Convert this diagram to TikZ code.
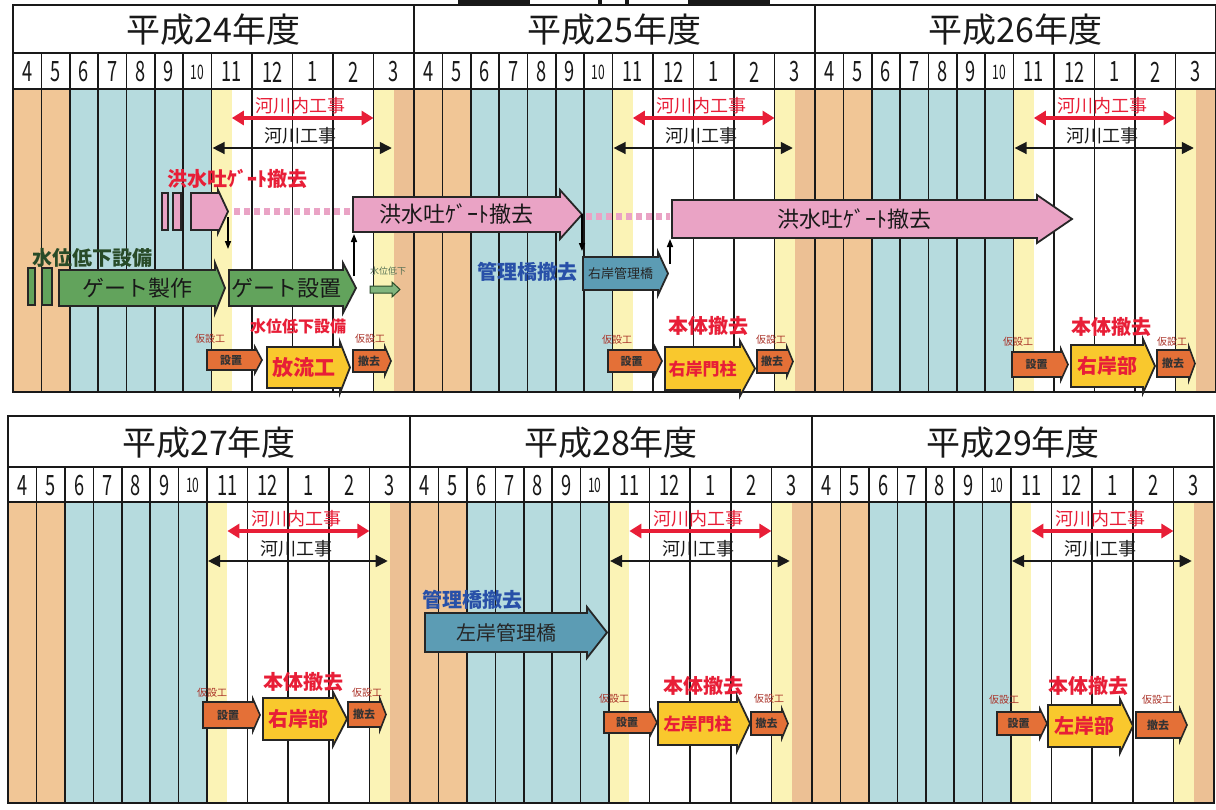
\documentclass[tikz,border=0pt]{standalone}
\usepackage{fontspec}
\setmainfont{Noto Sans CJK JP}
\usepackage{graphicx}
\usetikzlibrary{arrows.meta}
\definecolor{cOr}{RGB}{241,198,150}
\definecolor{cOr2}{RGB}{236,192,148}
\definecolor{cBl}{RGB}{182,219,222}
\definecolor{cYe}{RGB}{251,243,182}
\definecolor{cPink}{RGB}{234,163,197}
\definecolor{cGreen}{RGB}{98,163,92}
\definecolor{cTeal}{RGB}{92,156,180}
\definecolor{cYarr}{RGB}{249,200,45}
\definecolor{cOarr}{RGB}{228,112,55}
\definecolor{cRed}{RGB}{232,30,55}
\definecolor{cBlue}{RGB}{40,80,168}
\definecolor{cDG}{RGB}{40,75,40}
\definecolor{cBrown}{RGB}{170,50,40}
\newcommand\fsz[1]{\fontsize{#1}{#1}\selectfont}
\tikzset{
 bline/.style={line width=2.2pt, draw=black!90},
 vline/.style={line width=1.6pt, draw=black!90},
 titlelbl/.style={font=\fsz{34}, inner sep=0pt, text=black!90},
 monthlbl/.style={font=\fsz{28}, inner sep=0pt, text=black!90},
 redlbl/.style={font=\fsz{18}, text=cRed, inner sep=0pt},
 blklbl/.style={font=\fsz{18}, text=black!90, inner sep=0pt},
 redarr/.style={line width=4pt, draw=cRed, arrows={Triangle[length=12pt,width=14pt]-Triangle[length=12pt,width=14pt]}},
 blkarr/.style={line width=1.5pt, draw=black!90, arrows={Triangle[length=12pt,width=12pt]-Triangle[length=12pt,width=12pt]}},
 pinkA/.style={draw=black!85, line width=1.8pt, fill=cPink},
 pinkA txt/.style={inner sep=0pt, text=black!90},
 greenA/.style={draw=black!85, line width=1.8pt, fill=cGreen},
 greenA txt/.style={inner sep=0pt, text=black!90},
 greenB/.style={draw=cDG, line width=1pt, fill=cGreen!80},
 greenB txt/.style={inner sep=0pt},
 tealA/.style={draw=black!85, line width=1.8pt, fill=cTeal},
 tealA txt/.style={inner sep=0pt, text=black!85},
 yellowA/.style={draw=black!85, line width=1.8pt, fill=cYarr},
 yellowA txt/.style={inner sep=0pt, text=cRed, font=\bfseries},
 orangeA/.style={draw=black!85, line width=1.6pt, fill=cOarr},
 orangeA txt/.style={inner sep=0pt, text=black!80, font=\bfseries},
 kasetsu/.style={font=\fsz{10}, text=cBrown, inner sep=0pt},
 redbold/.style={font=\bfseries, text=cRed, inner sep=0pt},
 bluelbl/.style={font=\fsz{20}\bfseries, text=cBlue, inner sep=0pt},
 greenlbl/.style={font=\fsz{20}\bfseries, text=cDG, inner sep=0pt},
 pinklbl/.style={font=\fsz{20}\bfseries, text=cRed, inner sep=0pt},
 tinygreen/.style={font=\fsz{9}, text=cDG!80, inner sep=0pt},
 pinkdot/.style={line width=7pt, draw=cPink, dash pattern=on 6pt off 4pt},
 vlink/.style={line width=1.5pt, draw=black, arrows={-Triangle[length=8pt,width=6pt]}},
 breakbar/.style={draw=black!85, line width=1.5pt},
}
% #1 name, #2 xstart, #3 xtip, #4 ytop, #5 ybot, #6 head length, #7 flare, #8 style, #9 text
\newcommand\blockarrow[9]{%
 \draw[#8] (#2,#4) -- ({#3-#6},#4) -- ({#3-#6},{#4-#7}) -- (#3,{(#4+#5)/2}) -- ({#3-#6},{#5+#7}) -- ({#3-#6},#5) -- (#2,#5) -- cycle;
 \node[#8 txt] (#1) at ({(#2+#3-#6)/2},{(#4+#5)/2}) {#9};
}
% #1 x0, #2 W, #3 ytop, #4 ytitle, #5 ymonth, #6 ybot, #7 title, #8 name
\newcommand\yearpanel[8]{%
 \pgfmathsetmacro\Pn{28.3*#2/400}%
 \pgfmathsetmacro\Pw{(#2-7*\Pn)/5}%
 \pgfmathsetmacro\Xb{#1+2*\Pn}%
 \pgfmathsetmacro\Xc{#1+7*\Pn}%
 \pgfmathsetmacro\Xd{\Xc+\Pw/2}%
 \pgfmathsetmacro\Xe{\Xc+4*\Pw}%
 \pgfmathsetmacro\Xf{\Xc+4.5*\Pw}%
 \pgfmathsetmacro\Xg{#1+#2}%
 \pgfmathsetmacro\Xt{\Xc+2.2*\Pw}%
 \fill[white] (#1,#3) rectangle (\Xg,#5);
 \fill[cOr] (#1,#5) rectangle (\Xb,#6);
 \fill[cBl] (\Xb,#5) rectangle (\Xc,#6);
 \fill[cYe] (\Xc,#5) rectangle (\Xd,#6);
 \fill[white] (\Xd,#5) rectangle (\Xe,#6);
 \fill[cYe] (\Xe,#5) rectangle (\Xf,#6);
 \fill[cOr2] (\Xf,#5) rectangle (\Xg,#6);
 \foreach \m [count=\i from 0] in {4,5,6,7,8,9,10,11,12,1,2,3} {
   \pgfmathsetmacro\xl{(\i<8) ? #1+\i*\Pn : \Xc+(\i-7)*\Pw}
   \pgfmathsetmacro\xr{(\i<7) ? #1+(\i+1)*\Pn : \Xc+(\i-6)*\Pw}
   \ifnum\i>0 \draw[vline] (\xl,#4) -- (\xl,#6); \fi
   \node[monthlbl] (#8m\m) at ({(\xl+\xr)/2},{(#4+#5)/2+1}) {\ifnum\m=10 \fsz{20}\scalebox{0.6}[1]{10}\else\scalebox{0.65}[1]{\m}\fi};
 }
 \node[titlelbl] (#8t) at ({(#1+\Xg)/2},{(#3+#4)/2+1}) {#7};
 \draw[bline] (#1,#3) rectangle (\Xg,#6);
 \draw[bline] (#1,#4) -- (\Xg,#4);
 \draw[bline] (#1,#5) -- (\Xg,#5);
 \node[redlbl] (#8r) at (\Xt,{#5+17}) {河川内工事};
 \coordinate (#8ra) at (\Xd,{#5+29});
 \coordinate (#8rb) at (\Xe,{#5+29});
 \draw[redarr] (#8ra) -- (#8rb);
 \node[blklbl] (#8k) at (\Xt,{#5+47}) {河川工事};
 \coordinate (#8ka) at ({\Xc+1},{#5+59});
 \coordinate (#8kb) at ({\Xf-2},{#5+59});
 \draw[blkarr] (#8ka) -- (#8kb);
}
\begin{document}
\begin{tikzpicture}[x=1pt,y=-1pt]
\useasboundingbox (0,0) rectangle (1216,809);
\fill[white] (0,0) rectangle (1216,809);
% clipped main title fragments at the very top
\fill[black!90] (458,0) rectangle (530,5);
\fill[black!90] (598,0) rectangle (602,7);
\fill[black!90] (625,0) rectangle (629,7);
\fill[black!90] (688,0) rectangle (770,5);
% panels
\yearpanel{13}{401}{5}{53}{89}{392}{平成24年度}{pA}
\yearpanel{414}{401}{5}{53}{89}{392}{平成25年度}{pB}
\yearpanel{815}{401}{5}{53}{89}{392}{平成26年度}{pC}
\yearpanel{8}{402}{416}{467}{502}{803}{平成27年度}{pD}
\yearpanel{410}{402}{416}{467}{502}{803}{平成28年度}{pE}
\yearpanel{812}{402}{416}{467}{502}{803}{平成29年度}{pF}
% ---- panel 1 ----
\node[pinklbl] (gl1) at (237,179) {洪水吐ｹﾞｰﾄ撤去};
\draw[breakbar, fill=cPink] (162,193) rectangle (168,230);
\draw[breakbar, fill=cPink] (173,193) rectangle (181,230);
\blockarrow{pk1}{191}{228}{193}{230}{10}{3}{pinkA}{}
\coordinate (d1a) at (234,211);
\coordinate (d1b) at (352,211);
\draw[pinkdot] (d1a) -- (d1b);
\blockarrow{pk2}{353}{582}{197}{232}{22}{7}{pinkA}{\fsz{22}洪水吐ｹﾞｰﾄ撤去}
\coordinate (d2a) at (586,216);
\coordinate (d2b) at (670,216);
\draw[pinkdot] (d2a) -- (d2b);
\blockarrow{pk3}{672}{1072}{200}{238}{35}{5}{pinkA}{\fsz{22}洪水吐ｹﾞｰﾄ撤去}
\coordinate (v1a) at (228,217);
\coordinate (v1b) at (228,249);
\draw[vlink] (v1a) -- (v1b);
\coordinate (v2a) at (354,276);
\coordinate (v2b) at (354,234);
\draw[vlink] (v2a) -- (v2b);
\coordinate (v3a) at (582,214);
\coordinate (v3b) at (582,251);
\draw[vlink] (v3a) -- (v3b);
\coordinate (v4a) at (670,264);
\coordinate (v4b) at (670,239);
\draw[vlink] (v4a) -- (v4b);
\node[greenlbl] (wl1) at (92,258) {水位低下設備};
\draw[breakbar, fill=cGreen] (28,268) rectangle (35,305);
\draw[breakbar, fill=cGreen] (42,268) rectangle (52,305);
\blockarrow{g1}{59}{225}{270}{306}{10}{7}{greenA}{\fsz{22}ゲート製作}
\blockarrow{g2}{229}{356}{270}{306}{13}{7}{greenA}{\fsz{22}ゲート設置}
\node[tinygreen] (wl2) at (388,271) {水位低下};
\blockarrow{g3}{370}{400}{286}{293}{8}{4}{greenB}{}
\node[kasetsu] (ksAa) at (210,339) {仮設工};
\blockarrow{oAa}{207}{262}{350}{370}{7}{3}{orangeA}{\fsz{11}設置}
\node[redbold] (hrA) at (298,326) {\fsz{16}水位低下設備};
\blockarrow{yA}{267}{350}{347}{388}{10}{5}{yellowA}{\fsz{21}放流工}
\node[kasetsu] (ksAb) at (370,339) {仮設工};
\blockarrow{oAb}{353}{391}{350}{372}{6}{3}{orangeA}{\fsz{11}撤去}
% ---- panel 2 ----
\node[bluelbl] (kbB) at (527,272) {管理橋撤去};
\blockarrow{tB}{583}{668}{257}{290}{10}{5}{tealA}{\fsz{13}右岸管理橋}
\node[kasetsu] (ksBa) at (617,340) {仮設工};
\blockarrow{oBa}{608}{662}{350}{372}{7}{3}{orangeA}{\fsz{11}設置}
\node[redbold] (hrB) at (708,326) {\fsz{20}本体撤去};
\blockarrow{yB}{665}{755}{347}{390}{15}{6}{yellowA}{\fsz{17}右岸門柱}
\node[kasetsu] (ksBb) at (771,340) {仮設工};
\blockarrow{oBb}{757}{793}{350}{373}{6}{3}{orangeA}{\fsz{11}撤去}
% ---- panel 3 ----
\node[kasetsu] (ksCa) at (1018,342) {仮設工};
\blockarrow{oCa}{1012}{1068}{352}{377}{7}{3}{orangeA}{\fsz{11}設置}
\node[redbold] (hrC) at (1111,327) {\fsz{20}本体撤去};
\blockarrow{yC}{1071}{1155}{345}{387}{12}{6}{yellowA}{\fsz{20}右岸部}
\node[kasetsu] (ksCb) at (1172,342) {仮設工};
\blockarrow{oCb}{1157}{1195}{350}{377}{6}{3}{orangeA}{\fsz{11}撤去}
% ---- panel 4 ----
\node[kasetsu] (ksDa) at (212,693) {仮設工};
\blockarrow{oDa}{203}{260}{702}{728}{7}{3}{orangeA}{\fsz{11}設置}
\node[redbold] (hrD) at (303,682) {\fsz{20}本体撤去};
\blockarrow{yD}{263}{347}{698}{740}{14}{6}{yellowA}{\fsz{20}右岸部}
\node[kasetsu] (ksDb) at (367,693) {仮設工};
\blockarrow{oDb}{348}{386}{702}{727}{6}{3}{orangeA}{\fsz{11}撤去}
% ---- panel 5 ----
\node[bluelbl] (kbE) at (472,600) {管理橋撤去};
\blockarrow{tE}{425}{607}{613}{652}{20}{6}{tealA}{\fsz{20}左岸管理橋}
\node[kasetsu] (ksEa) at (614,699) {仮設工};
\blockarrow{oEa}{604}{657}{712}{733}{7}{3}{orangeA}{\fsz{11}設置}
\node[redbold] (hrE) at (703,686) {\fsz{20}本体撤去};
\blockarrow{yE}{658}{750}{702}{745}{13}{6}{yellowA}{\fsz{17}左岸門柱}
\node[kasetsu] (ksEb) at (769,699) {仮設工};
\blockarrow{oEb}{751}{788}{712}{735}{6}{3}{orangeA}{\fsz{11}撤去}
% ---- panel 6 ----
\node[kasetsu] (ksFa) at (1004,700) {仮設工};
\blockarrow{oFa}{997}{1047}{712}{735}{7}{3}{orangeA}{\fsz{11}設置}
\node[redbold] (hrF) at (1088,686) {\fsz{20}本体撤去};
\blockarrow{yF}{1048}{1133}{705}{747}{13}{6}{yellowA}{\fsz{20}左岸部}
\node[kasetsu] (ksFb) at (1157,700) {仮設工};
\blockarrow{oFb}{1136}{1187}{712}{738}{7}{3}{orangeA}{\fsz{11}撤去}
\end{tikzpicture}
\end{document}
